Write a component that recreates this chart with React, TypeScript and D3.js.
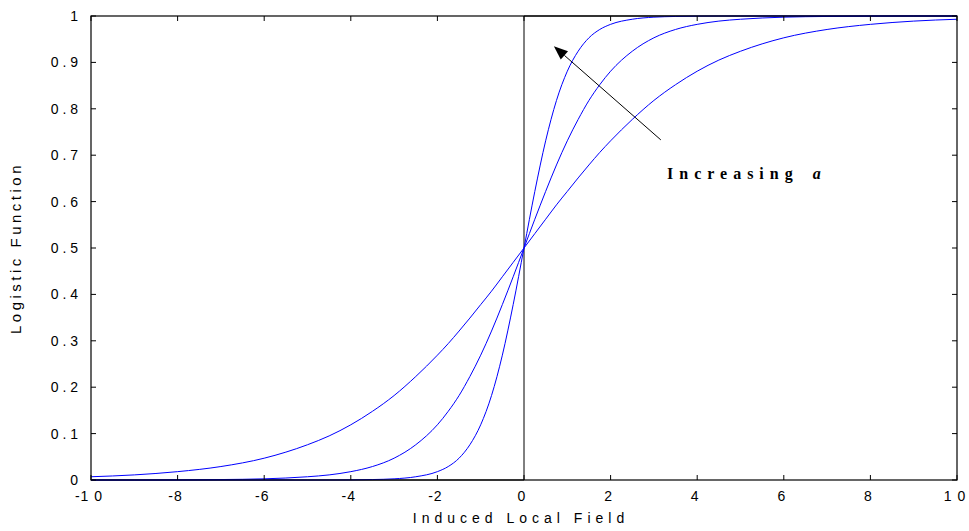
import React from "react";
import * as d3 from "d3";

// x positions at which the curves were read
const xs = [-10, -9, -8, -7, -6, -5, -4.5, -4, -3.5, -3, -2.5, -2, -1.75, -1.5, -1.25, -1, -0.75, -0.5, -0.25, 0,
  0.25, 0.5, 0.75, 1, 1.25, 1.5, 1.75, 2, 2.5, 3, 3.5, 4, 4.5, 5, 6, 7, 8, 9, 10];

// slope a = 0.5
const ySlow = [0.007, 0.011, 0.018, 0.029, 0.047, 0.076, 0.095, 0.119, 0.148, 0.182, 0.223, 0.269, 0.294, 0.321, 0.349, 0.378, 0.407, 0.438, 0.469, 0.5,
  0.531, 0.562, 0.593, 0.622, 0.651, 0.679, 0.706, 0.731, 0.777, 0.818, 0.852, 0.881, 0.905, 0.924, 0.953, 0.971, 0.982, 0.989, 0.993];
// slope a = 1
const yMid = [0.0, 0.0, 0.0003, 0.001, 0.0025, 0.007, 0.011, 0.018, 0.029, 0.047, 0.076, 0.119, 0.148, 0.182, 0.223, 0.269, 0.321, 0.378, 0.438, 0.5,
  0.562, 0.622, 0.679, 0.731, 0.777, 0.818, 0.852, 0.881, 0.924, 0.953, 0.971, 0.982, 0.989, 0.993, 0.9975, 0.999, 0.9997, 1.0, 1.0];
// slope a = 2
const yFast = [0.0, 0.0, 0.0, 0.0, 0.0, 0.0, 0.0001, 0.0003, 0.001, 0.0025, 0.007, 0.018, 0.029, 0.047, 0.076, 0.119, 0.182, 0.269, 0.378, 0.5,
  0.622, 0.731, 0.818, 0.881, 0.924, 0.953, 0.971, 0.982, 0.993, 0.9975, 0.999, 0.9997, 0.9999, 1.0, 1.0, 1.0, 1.0, 1.0, 1.0];

// threshold (step) function
const stepX = [-10, 0, 0, 10];
const stepY = [0, 0, 1, 1];

const xTicks = [-10, -8, -6, -4, -2, 0, 2, 4, 6, 8, 10];
const xTickLabels = ["-1 0", "-8", "-6", "-4", "-2", "0", "2", "4", "6", "8", "1 0"];
const yTicks = [0, 0.1, 0.2, 0.3, 0.4, 0.5, 0.6, 0.7, 0.8, 0.9, 1];
const yTickLabels = ["0", "0 . 1", "0 . 2", "0 . 3", "0 . 4", "0 . 5", "0 . 6", "0 . 7", "0 . 8", "0 . 9", "1"];

const arrowFrom = [3.16, 0.733];
const arrowTo = [0.69, 0.935];

export default function App() {
  const W = 969, H = 531;
  const left = 91, right = 957, top = 16, bottom = 480;
  const x = d3.scaleLinear().domain([-10, 10]).range([left, right]);
  const y = d3.scaleLinear().domain([0, 1]).range([bottom, top]);
  const line = d3.line<number>().x((_, i) => x(xs[i])).y((d) => y(d)).curve(d3.curveMonotoneX);
  const stepLine = d3.line<number>().x((_, i) => x(stepX[i])).y((d) => y(d));
  const font = "Arial, 'Liberation Sans', sans-serif";
  const tl = 5;

  const ax1 = x(arrowFrom[0]), ay1 = y(arrowFrom[1]);
  const ax2 = x(arrowTo[0]), ay2 = y(arrowTo[1]);
  const ang = Math.atan2(ay2 - ay1, ax2 - ax1);
  const hl = 14, hw = 5.5;
  const bx = ax2 - hl * Math.cos(ang), by = ay2 - hl * Math.sin(ang);
  const px = -Math.sin(ang) * hw, py = Math.cos(ang) * hw;

  return (
    <svg width={W} height={H} style={{ position: "absolute", left: 0, top: 0, background: "#fff" }}>
      <rect x={0} y={0} width={W} height={H} fill="#fff" />
      <path d={stepLine(stepY) || ""} fill="none" stroke="#000" strokeWidth={1} />
      {[ySlow, yMid, yFast].map((s, i) => (
        <path key={i} d={line(s) || ""} fill="none" stroke="#0000ff" strokeWidth={1} />
      ))}
      {/* axes box */}
      <rect x={left} y={top} width={right - left} height={bottom - top} fill="none" stroke="#000" strokeWidth={1.2} />
      {xTicks.map((t, i) => (
        <g key={"xt" + i}>
          <line x1={x(t)} x2={x(t)} y1={bottom} y2={bottom - tl} stroke="#000" />
          <line x1={x(t)} x2={x(t)} y1={top} y2={top + tl} stroke="#000" />
          <text x={x(t) - 2} y={501} fontFamily={font} fontSize={14} textAnchor="middle" letterSpacing={1}>{xTickLabels[i]}</text>
        </g>
      ))}
      {yTicks.map((t, i) => (
        <g key={"yt" + i}>
          <line x1={left} x2={left + tl} y1={y(t)} y2={y(t)} stroke="#000" />
          <line x1={right} x2={right - tl} y1={y(t)} y2={y(t)} stroke="#000" />
          <text x={78} y={y(t) + 5} fontFamily={font} fontSize={14} textAnchor="end" style={{ whiteSpace: "pre" }}>{yTickLabels[i]}</text>
        </g>
      ))}
      <text x={521} y={523} fontFamily={font} fontSize={14} textAnchor="middle" letterSpacing={5}>Induced Local Field</text>
      <text transform={`translate(21,248) rotate(-90)`} fontFamily={font} fontSize={15} textAnchor="middle" letterSpacing={3.5}>Logistic Function</text>
      {/* annotation arrow */}
      <line x1={ax1} y1={ay1} x2={bx} y2={by} stroke="#000" strokeWidth={1} />
      <path d={`M${ax2},${ay2} L${bx + px},${by + py} L${bx - px},${by - py} Z`} fill="#000" />
      <text x={667} y={179} fontFamily="'Liberation Serif', 'Times New Roman', serif" fontSize={16} fontWeight="bold" letterSpacing={6}>
        Increasing<tspan dx={14} fontStyle="italic">a</tspan>
      </text>
    </svg>
  );
}
